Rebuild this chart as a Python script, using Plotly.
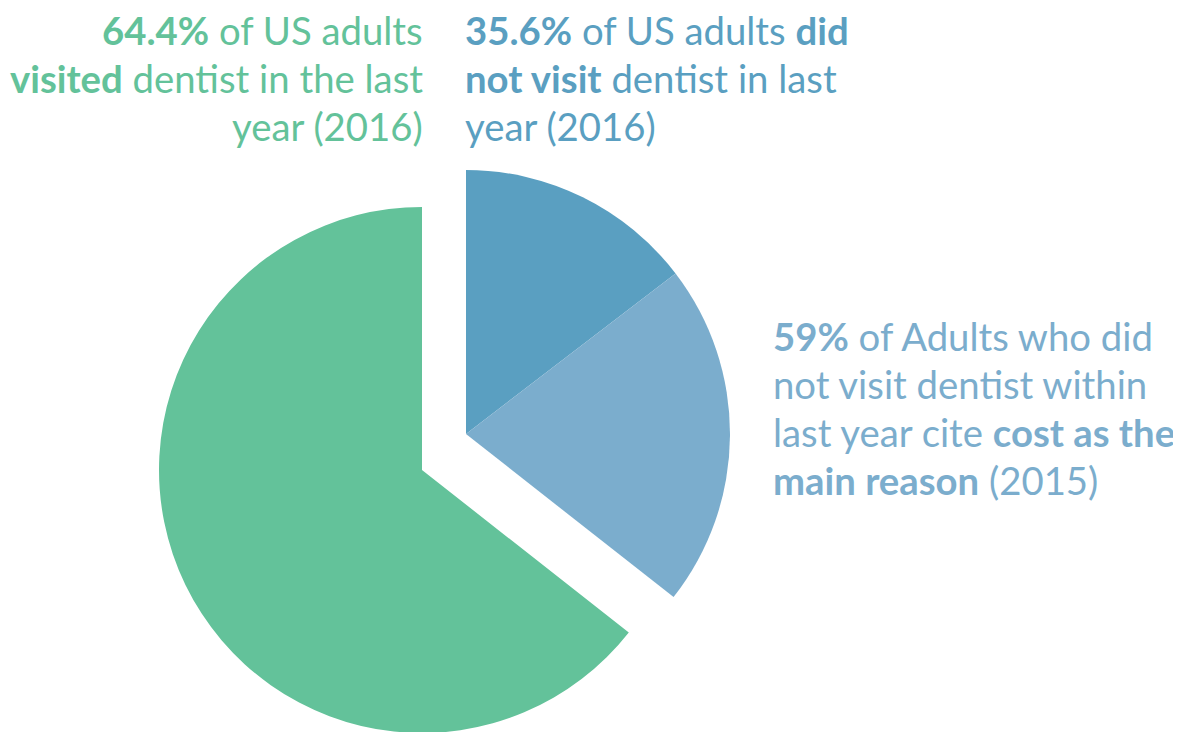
import plotly.graph_objects as go

# ---- data ----
segments = ["Visited dentist (2016)", "Did not visit - other reasons", "Did not visit - cost (2015)"]
visited_pct = 64.4          # % of US adults who visited dentist in last year (2016)
not_visited_pct = 35.6      # % of US adults who did not visit (2016)
cost_reason_pct = 59        # % of non-visitors citing cost as main reason (2015)

visited_lines = [
    f"<b>{visited_pct}%</b> of US adults",
    "<b>visited</b> dentist in the last",
    "year (2016)",
]
not_visited_lines = [
    f"<b>{not_visited_pct}%</b> of US adults <b>did</b>",
    "<b>not visit</b> dentist in last",
    "year (2016)",
]
cost_lines = [
    f"<b>{cost_reason_pct}%</b> of Adults who did",
    "not visit dentist within",
    "last year cite <b>cost as the</b>",
    "<b>main reason</b> (2015)",
]

# ---- styling ----
GREEN = "#63c29a"
BLUE_DARK = "#5a9fc1"
BLUE_LIGHT = "#7badcd"
CLEAR = "rgba(0,0,0,0)"
FONT = "Lato"
FSIZE = 38.3
LINE_GAP = 48

W, H = 1181, 732
OFF = 8  # page body margin


def domain(cx, cy, r):
    cx -= OFF
    cy -= OFF
    x0 = max(0.0, (cx - r) / W)
    x1 = min(1.0, (cx + r) / W)
    y0 = max(0.0, (H - (cy + r)) / H)
    y1 = min(1.0, (H - (cy - r)) / H)
    return dict(x=[x0, x1], y=[y0, y1])


other_share = not_visited_pct * (100 - cost_reason_pct) / 100
cost_share = not_visited_pct * cost_reason_pct / 100

fig = go.Figure()

# Pulled-out "did not visit" portion, split by reason
fig.add_trace(go.Pie(
    labels=[segments[1], segments[2], segments[0]],
    values=[other_share, cost_share, visited_pct],
    marker=dict(colors=[BLUE_DARK, BLUE_LIGHT, CLEAR], line=dict(width=0)),
    direction="clockwise", rotation=0, sort=False,
    textinfo="none", hoverinfo="skip", showlegend=False,
    domain=domain(466, 434, 264),
))

# "visited" portion
fig.add_trace(go.Pie(
    labels=["_gap", segments[0]],
    values=[not_visited_pct, visited_pct],
    marker=dict(colors=[CLEAR, GREEN], line=dict(width=0)),
    direction="clockwise", rotation=0, sort=False,
    textinfo="none", hoverinfo="skip", showlegend=False,
    domain=domain(422, 470, 263),
))


def add_block(lines, x_px, first_baseline, anchor, color):
    for i, line in enumerate(lines):
        baseline = first_baseline + i * LINE_GAP
        yc = baseline - 12 - OFF
        fig.add_annotation(
            x=(x_px - OFF) / W, y=1 - yc / H, xref="paper", yref="paper",
            xanchor=anchor, yanchor="middle", align=anchor, showarrow=False,
            text=line, font=dict(family=FONT, size=FSIZE, color=color),
        )


add_block(visited_lines, 425, 42, "right", GREEN)
add_block(not_visited_lines, 463, 42, "left", BLUE_DARK)
add_block(cost_lines, 771, 348, "left", BLUE_LIGHT)

fig.update_layout(
    width=W, height=H,
    margin=dict(l=0, r=0, t=0, b=0),
    paper_bgcolor="white", plot_bgcolor="white",
)

fig.write_html("out.html")
